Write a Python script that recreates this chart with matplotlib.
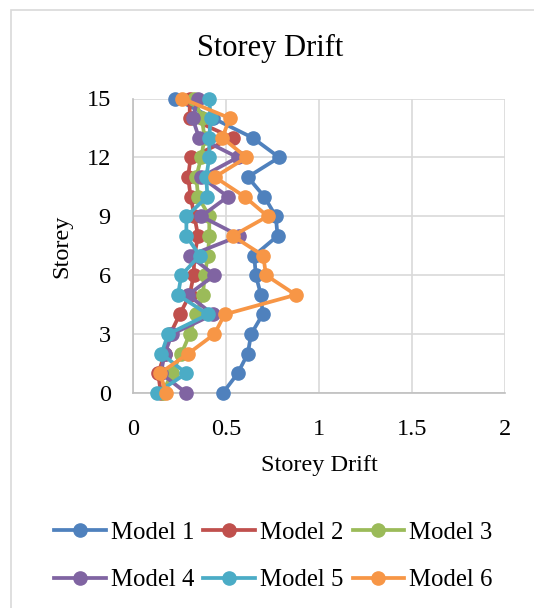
import matplotlib
matplotlib.use('Agg')
import matplotlib.pyplot as plt
from matplotlib.patches import Rectangle

plt.rcParams['font.family'] = ['Liberation Serif', 'DejaVu Serif']

# 数据：各模型层间位移角
storeys = list(range(16))
model_1 = [0.483, 0.563, 0.617, 0.635, 0.697, 0.688, 0.66, 0.652, 0.777, 0.768, 0.706, 0.617, 0.786, 0.643, 0.43, 0.225]
model_2 = [0.15, 0.135, 0.171, 0.20, 0.251, 0.305, 0.326, 0.33, 0.35, 0.33, 0.31, 0.296, 0.31, 0.535, 0.305, 0.305]
model_3 = [0.16, 0.207, 0.26, 0.305, 0.34, 0.376, 0.385, 0.403, 0.41, 0.41, 0.35, 0.34, 0.367, 0.385, 0.37, 0.33]
model_4 = [0.287, 0.15, 0.17, 0.21, 0.43, 0.296, 0.438, 0.305, 0.572, 0.367, 0.51, 0.367, 0.563, 0.355, 0.32, 0.35]
model_5 = [0.127, 0.287, 0.153, 0.189, 0.403, 0.242, 0.26, 0.358, 0.287, 0.287, 0.40, 0.394, 0.41, 0.41, 0.417, 0.41]
model_6 = [0.18, 0.144, 0.296, 0.438, 0.492, 0.875, 0.715, 0.70, 0.536, 0.724, 0.60, 0.44, 0.61, 0.48, 0.52, 0.264]
labels = ['Model 1', 'Model 2', 'Model 3', 'Model 4', 'Model 5', 'Model 6']
colors = ['#4F81BD', '#C0504D', '#9BBB59', '#8064A2', '#4BACC6', '#F79646']
x_ticks = [0, 0.5, 1, 1.5, 2]
x_ticklabels = ['0', '0.5', '1', '1.5', '2']
y_ticks = [0, 3, 6, 9, 12, 15]

W, H = 534, 608
fig = plt.figure(figsize=(W / 100, H / 100), dpi=100)

# 图表外框
fig.patches.append(Rectangle((11 / W, -0.1), 1.2, 1.1 - 10 / H, transform=fig.transFigure,
                             fill=False, edgecolor='#D9D9D9', linewidth=1.2, clip_on=False))

ax = fig.add_axes([133 / W, 1 - 393 / H, 372 / W, 294.5 / H])
series = [model_1, model_2, model_3, model_4, model_5, model_6]
lines = []
for vals, lab, col in zip(series, labels, colors):
    ln, = ax.plot(vals, storeys, '-o', color=col, label=lab, linewidth=2.7,
                  markersize=9.5, clip_on=False, zorder=3)
    lines.append(ln)

ax.set_xlim(0, 2)
ax.set_ylim(0, 15)
ax.set_xticks(x_ticks)
ax.set_xticklabels(x_ticklabels)
ax.set_yticks(y_ticks)
ax.grid(color='#D9D9D9', linewidth=1.2)
ax.set_axisbelow(True)
for s in ['top', 'right']:
    ax.spines[s].set_visible(False)
for s in ['left', 'bottom']:
    ax.spines[s].set_color('#BFBFBF')
    ax.spines[s].set_linewidth(1.2)
ax.tick_params(length=0, labelsize=17.5)
ax.tick_params(axis='y', pad=16)
ax.tick_params(axis='x', pad=19)

fig.text(270.5 / W, 1 - 48 / H, 'Storey Drift', ha='center', va='center', fontsize=22)
fig.text(319 / W, 1 - 465 / H, 'Storey Drift', ha='center', va='center', fontsize=17.5)
fig.text(62 / W, 1 - 246 / H, 'Storey', ha='center', va='center', rotation=90, fontsize=17.5)

# 图例按行排列：列优先填充，所以重新排序
order = [0, 3, 1, 4, 2, 5]
fig.legend([lines[i] for i in order], [labels[i] for i in order],
           loc='center', bbox_to_anchor=(273.5 / W, 1 - 556.5 / H), ncol=3, frameon=False,
           fontsize=17.8, handlelength=2.1, handletextpad=0.2, columnspacing=0.36,
           labelspacing=1.0, borderpad=0)

plt.savefig('out.png', dpi=100)
